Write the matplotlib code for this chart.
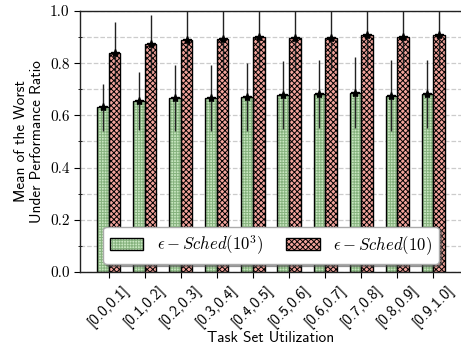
import numpy as np
import matplotlib
matplotlib.use("Agg")
import matplotlib.pyplot as plt

groups = ["[0.0,0.1]", "[0.1,0.2]", "[0.2,0.3]", "[0.3,0.4]", "[0.4,0.5]",
          "[0.5,0.6]", "[0.6,0.7]", "[0.7,0.8]", "[0.8,0.9]", "[0.9,1.0]"]
sched_1000 = [0.632, 0.655, 0.667, 0.667, 0.672, 0.677, 0.682, 0.687, 0.676, 0.681]
sched_1000_err = [0.09, 0.11, 0.125, 0.125, 0.13, 0.13, 0.13, 0.135, 0.135, 0.13]
sched_10 = [0.839, 0.873, 0.889, 0.893, 0.899, 0.895, 0.895, 0.907, 0.899, 0.907]
sched_10_err = [0.12, 0.11, 0.12, 0.12, 0.12, 0.12, 0.12, 0.12, 0.12, 0.12]
yticks = [0.0, 0.2, 0.4, 0.6, 0.8, 1.0]

plt.rcParams['mathtext.fontset'] = 'cm'
plt.rcParams['hatch.linewidth'] = 0.7

fig = plt.figure(figsize=(4.61, 3.54), dpi=100)
ax = fig.add_axes([80 / 461, 82 / 354, 382 / 461, 261 / 354])

x = np.arange(len(groups))
w = 0.32

g_fill = ax.bar(x - w / 2, sched_1000, w, color="#c8e6c0", edgecolor="#86b27e",
                hatch="++++++", linewidth=0, zorder=2)
g_edge = ax.bar(x - w / 2, sched_1000, w, fill=False, edgecolor="black",
                linewidth=1.0, zorder=2)
r_bar = ax.bar(x + w / 2, sched_10, w, color="#f3a49c", edgecolor="black",
               hatch="xxxxxx", linewidth=1.0, zorder=2)

ax.errorbar(x - w / 2, sched_1000, yerr=sched_1000_err, fmt="*", color="black",
            ecolor="#222222", elinewidth=1.0, ms=6, zorder=3)
ax.errorbar(x + w / 2, sched_10, yerr=sched_10_err, fmt="*", color="black",
            ecolor="#222222", elinewidth=1.0, ms=6, zorder=3)

ax.set_xlim(-0.8, 9.8)
ax.set_ylim(0, 1.0)
ax.set_yticks(yticks)
ax.set_yticklabels(["%.1f" % v for v in yticks], family="cmr10", fontsize=11)
ax.set_yticks(np.arange(0.1, 1.0, 0.2), minor=True)
ax.set_xticks(x)
ax.set_xticklabels(groups, rotation=45, family="cmss10", fontsize=11)
ax.tick_params(axis="y", which="major", length=4)
ax.tick_params(axis="y", which="minor", length=3, direction="inout")
ax.tick_params(axis="x", length=4)

ax.set_axisbelow(True)
ax.grid(axis="y", which="both", linestyle="--", color="#cccccc", linewidth=0.9)
ax.spines["right"].set_visible(False)
for s in ["left", "top", "bottom"]:
    ax.spines[s].set_linewidth(1.0)
    ax.spines[s].set_color("#222222")

ax.set_xlabel("Task Set Utilization", family="cmss10", fontsize=11, labelpad=1)
ax.set_ylabel("Mean of the Worst\nUnder Performance Ratio", family="cmss10",
              fontsize=11, labelpad=4)

ax.legend([(g_fill[0], g_edge[0]), r_bar[0]],
          [r"$\epsilon-Sched(10^3)$", r"$\epsilon-Sched(10)$"],
          ncol=2, loc="lower center", bbox_to_anchor=(0.5, 0.0),
          fontsize=12, fancybox=True, shadow=True, framealpha=1,
          edgecolor="#aaaaaa", handlelength=2.0, columnspacing=1.4)

plt.savefig("out.png", dpi=100)
